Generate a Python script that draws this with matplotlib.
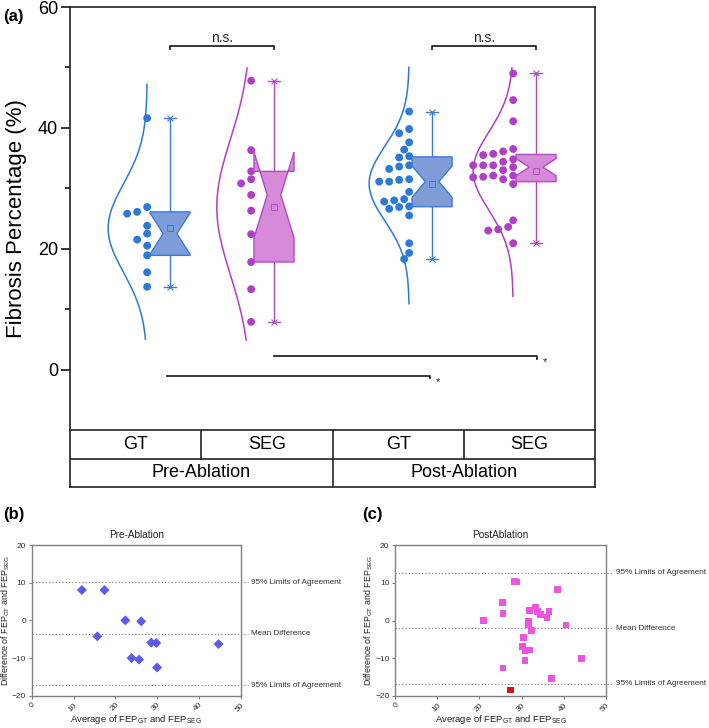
import numpy as np
import matplotlib
matplotlib.use('Agg')
import matplotlib.pyplot as plt
from matplotlib.patches import Polygon

plt.rcParams['font.family'] = ['Liberation Sans', 'DejaVu Sans']
plt.rcParams['mathtext.fontset'] = 'custom'
plt.rcParams['mathtext.rm'] = 'Liberation Sans'
plt.rcParams['mathtext.it'] = 'Liberation Sans:italic'

# ---------------- data ----------------
row1_labels = ['GT', 'SEG', 'GT', 'SEG']
row2_labels = ['Pre-Ablation', 'Post-Ablation']

gt_pre = [41.6, 26.1, 25.8, 26.9, 22.5, 23.8, 20.5, 21.5, 18.9, 16.1, 13.7]
seg_pre = [47.8, 36.3, 32.8, 31.5, 30.8, 28.9, 26.3, 22.4, 17.8, 13.3, 7.9]
gt_post = [42.7, 39.1, 39.8, 37.6, 36.4, 35.1, 35.3, 33.8, 33.6, 33.2, 31.5,
           31.1, 31.4, 31.1, 29.4, 28.2, 27.8, 28.0, 27.0, 26.6, 26.9, 25.5,
           20.9, 19.3, 18.3]
seg_post = [49.0, 44.6, 41.1, 36.5, 36.1, 35.7, 35.5, 34.8, 34.4, 33.8, 33.8,
            33.8, 33.5, 33.0, 32.1, 31.9, 32.1, 31.8, 31.5, 30.7, 24.7, 23.6,
            23.2, 23.0, 20.9]
curve_range = [(5.0, 47.2), (4.9, 49.9), (10.9, 50.0), (12.1, 49.9)]

ba_pre_avg = [12.0, 17.4, 22.4, 26.2, 15.7, 28.6, 29.8, 44.7, 23.9, 25.7, 30.0]
ba_pre_diff = [8.05, 8.05, 0.0, -0.27, -4.25, -5.9, -6.0, -6.3, -10.0, -10.4, -12.5]
ba_pre_lines = [10.1, -3.5, -17.2]

ba_post_avg = [20.9, 25.4, 25.6, 25.6, 28.3, 28.7, 30.4, 30.3, 30.8, 30.8, 31.8,
               31.6, 31.6, 31.9, 32.4, 33.3, 33.8, 34.5, 36.0, 36.5, 37.0, 38.6,
               40.5, 44.1]
ba_post_diff = [0.0, 4.67, 1.85, -12.6, 10.4, 10.2, -4.4, -6.9, -7.9, -10.7, -7.8,
                -0.26, -0.97, 2.55, -2.55, 3.6, 2.4, 1.5, 0.8, 2.3, -15.4, 8.3,
                -1.2, -10.0]
ba_post_flag_avg = [27.4]
ba_post_flag_diff = [-18.4]
ba_post_lines = [12.6, -2.0, -16.7]
ba_line_labels = ['95% Limits of Agreement', 'Mean Difference', '95% Limits of Agreement']

# ---------------- style ----------------
GT_DOT, GT_FILL, GT_EDGE = '#2a7ad6', '#7e9dd8', '#3d7bd0'
SEG_DOT, SEG_FILL, SEG_EDGE = '#b13ec6', '#d68ad9', '#b24ac4'
dots_c = [GT_DOT, SEG_DOT, GT_DOT, SEG_DOT]
fill_c = [GT_FILL, SEG_FILL, GT_FILL, SEG_FILL]
edge_c = [GT_EDGE, SEG_EDGE, GT_EDGE, SEG_EDGE]
positions = [1.0, 2.0, 3.52, 4.52]
curve_w = [0.375, 0.33, 0.385, 0.385]
swarm_step = [10.0, 10.0, 5.0, 5.0]
BASE_OFF = -0.22
BOX_W = 0.385

W, H = 709, 728
fig = plt.figure(figsize=(W / 100, H / 100), dpi=100)

def fx(px):
    return px / W

def fy(py):
    return 1 - py / H

# ---------------- panel (a) ----------------
ax = fig.add_axes([fx(70), fy(430), fx(595) - fx(70), fy(7) - fy(430)])
xlim = (0.038, 5.087)
ylim = (-10, 60)
ax.set_xlim(*xlim)
ax.set_ylim(*ylim)
ppx = (595 - 70) / (xlim[1] - xlim[0])
ppy = (430 - 7) / (ylim[1] - ylim[0])

def swarm(vals, base, step=5.0, d=7.6):
    vals = np.asarray(vals, dtype=float)
    placed = []
    xs = np.zeros(len(vals))
    for i in np.argsort(vals)[::-1]:
        yp = vals[i] * ppy
        k = 0
        while True:
            xp = -k * step
            if all((xp - a) ** 2 + (yp - b) ** 2 >= d * d for a, b in placed):
                break
            k += 1
        placed.append((xp, yp))
        xs[i] = base + xp / ppx
    return xs

datasets = [gt_pre, seg_pre, gt_post, seg_post]
for i, vals in enumerate(datasets):
    v = np.asarray(vals, dtype=float)
    pos = positions[i]
    base = pos + BASE_OFF
    # half-violin (normal curve)
    mu, sd = v.mean(), v.std(ddof=1)
    yy = np.linspace(curve_range[i][0], curve_range[i][1], 200)
    xx = base - curve_w[i] * np.exp(-0.5 * ((yy - mu) / sd) ** 2)
    ax.plot(xx, yy, color=dots_c[i], lw=1.1, zorder=2)
    # points
    xs = swarm(v, base, step=swarm_step[i])
    ax.scatter(xs, v, s=32, color=dots_c[i], edgecolors='none', zorder=3)
    # notched box
    q1, med, q3 = np.percentile(v, [25, 50, 75], method='weibull')
    nh = 1.57 * (q3 - q1) / np.sqrt(len(v))
    lo, hi = med - nh, med + nh
    L, R = pos - BOX_W / 2, pos + BOX_W / 2
    ind = BOX_W * 0.33
    pts = [(L, q1), (L, lo), (L + ind, med), (L, hi), (L, q3), (R, q3),
           (R, hi), (R - ind, med), (R, lo), (R, q1)]
    ax.add_patch(Polygon(pts, closed=True, facecolor=fill_c[i], edgecolor=edge_c[i],
                         lw=1.0, zorder=3))
    # whiskers
    ax.plot([pos, pos], [q3, v.max()], color=edge_c[i], lw=1.0, zorder=2)
    ax.plot([pos, pos], [v.min(), q1], color=edge_c[i], lw=1.0, zorder=2)
    for yv in (v.max(), v.min()):
        ax.plot([pos - 0.06, pos + 0.06], [yv, yv], color=edge_c[i], lw=1.0, zorder=2)
        ax.plot([pos], [yv], marker='x', ms=5, mew=0.8, color=edge_c[i], zorder=2)
    # mean
    ax.plot([pos], [mu], marker='s', ms=4, mfc='none', mec=edge_c[i], mew=0.7, zorder=4)

# significance annotations
SIG = '#262626'
for a, b in [(0, 1), (2, 3)]:
    x0, x1 = positions[a], positions[b]
    ax.plot([x0, x0, x1, x1], [53.1, 53.5, 53.5, 53.1], color=SIG, lw=1.3)
    ax.text((x0 + x1) / 2, 54.2, 'n.s.', ha='center', va='baseline', fontsize=10, color=SIG)
ax.plot([positions[0] - 0.03, positions[2] - 0.02, positions[2] - 0.02],
        [-1.0, -1.0, -1.4], color=SIG, lw=1.3)
ax.text(positions[2] + 0.04, -1.2, '*', ha='left', va='top', fontsize=8, color=SIG)
ax.plot([positions[1], positions[3] + 0.01, positions[3] + 0.01],
        [2.2, 2.2, 1.8], color=SIG, lw=1.3)
ax.text(positions[3] + 0.06, 2.0, '*', ha='left', va='top', fontsize=8, color=SIG)

ax.spines['bottom'].set_visible(False)
for s in ['left', 'top', 'right']:
    ax.spines[s].set_linewidth(1.2)
    ax.spines[s].set_color('#222222')
ax.set_xticks([])
ax.set_yticks([0, 20, 40, 60])
ax.set_yticks([10, 30, 50], minor=True)
ax.tick_params(axis='y', which='major', direction='out', length=6.5, width=1.1,
               labelsize=13, pad=2)
ax.tick_params(axis='y', which='minor', direction='out', length=3.5, width=1.1)
ax.set_ylabel('Fibrosis Percentage (%)', fontsize=16, labelpad=8)

# table under panel (a)
tab = fig.add_axes([fx(70), fy(487), fx(595) - fx(70), fy(430) - fy(487)])
tab.set_xlim(0, 4)
tab.set_ylim(0, 2)
tab.set_xticks([])
tab.set_yticks([])
for s in tab.spines.values():
    s.set_linewidth(1.2)
    s.set_color('#222222')
tab.plot([0, 4], [1, 1], color='#222222', lw=1.2)
for xv in [1, 3]:
    tab.plot([xv, xv], [1, 2], color='#222222', lw=1.2)
tab.plot([2, 2], [0, 2], color='#222222', lw=1.2)
for i, lab in enumerate(row1_labels):
    tab.text(i + 0.5, 1.5, lab, ha='center', va='center', fontsize=13)
for i, lab in enumerate(row2_labels):
    tab.text(2 * i + 1, 0.5, lab, ha='center', va='center', fontsize=13)

fig.text(fx(3), fy(17), '(a)', fontsize=12, fontweight='bold', va='center', ha='left')

# ---------------- Bland-Altman panels ----------------
def ba_panel(rect, avg, diff, lines, title, marker, color, ms, extra=None):
    b = fig.add_axes(rect)
    b.set_xlim(0, 50)
    b.set_ylim(-20, 20)
    b.scatter(avg, diff, marker=marker, s=ms, color=color, edgecolors='none', zorder=3)
    if extra is not None:
        b.scatter(extra[0], extra[1], marker=marker, s=ms, color=extra[2],
                  edgecolors='none', zorder=3)
    for v, lab in zip(lines, ba_line_labels):
        b.plot([0, 51.7], [v, v], ls=':', color='#8a8a8a', lw=0.9, clip_on=False, zorder=1)
        b.text(52.4, v, lab, ha='left', va='center', fontsize=5.9, color='#333333')
    for s in b.spines.values():
        s.set_color('#808080')
        s.set_linewidth(1.0)
    b.set_xticks([0, 10, 20, 30, 40, 50])
    b.set_yticks([-20, -10, 0, 10, 20])
    b.tick_params(direction='out', length=2.5, width=0.8, color='#808080',
                  labelsize=6, labelcolor='#333333', pad=1.5)
    for t in b.get_xticklabels():
        t.set_rotation(45)
        t.set_ha('right')
        t.set_rotation_mode('anchor')
    b.set_title(title, fontsize=7.2, pad=5, color='#222222')
    b.set_xlabel(r'Average of FEP$_{\mathrm{GT}}$ and FEP$_{\mathrm{SEG}}$',
                 fontsize=6.8, color='#222222', labelpad=0)
    b.set_ylabel(r'Difference of FEP$_{\mathrm{GT}}$ and FEP$_{\mathrm{SEG}}$',
                 fontsize=6.4, color='#222222', labelpad=0)
    return b

ba_panel([fx(31.7), fy(695.7), fx(240.7) - fx(31.7), fy(545) - fy(695.7)],
         ba_pre_avg, ba_pre_diff, ba_pre_lines, 'Pre-Ablation', 'D', '#5b5bef', 26)
ba_panel([fx(395), fy(696), fx(606) - fx(395), fy(545) - fy(696)],
         ba_post_avg, ba_post_diff, ba_post_lines, 'PostAblation', 's', '#ec55dc', 24,
         extra=(ba_post_flag_avg, ba_post_flag_diff, '#e01010'))

fig.text(fx(3), fy(515), '(b)', fontsize=12, fontweight='bold', va='center', ha='left')
fig.text(fx(362), fy(515), '(c)', fontsize=12, fontweight='bold', va='center', ha='left')

fig.savefig('out.png', dpi=100)
